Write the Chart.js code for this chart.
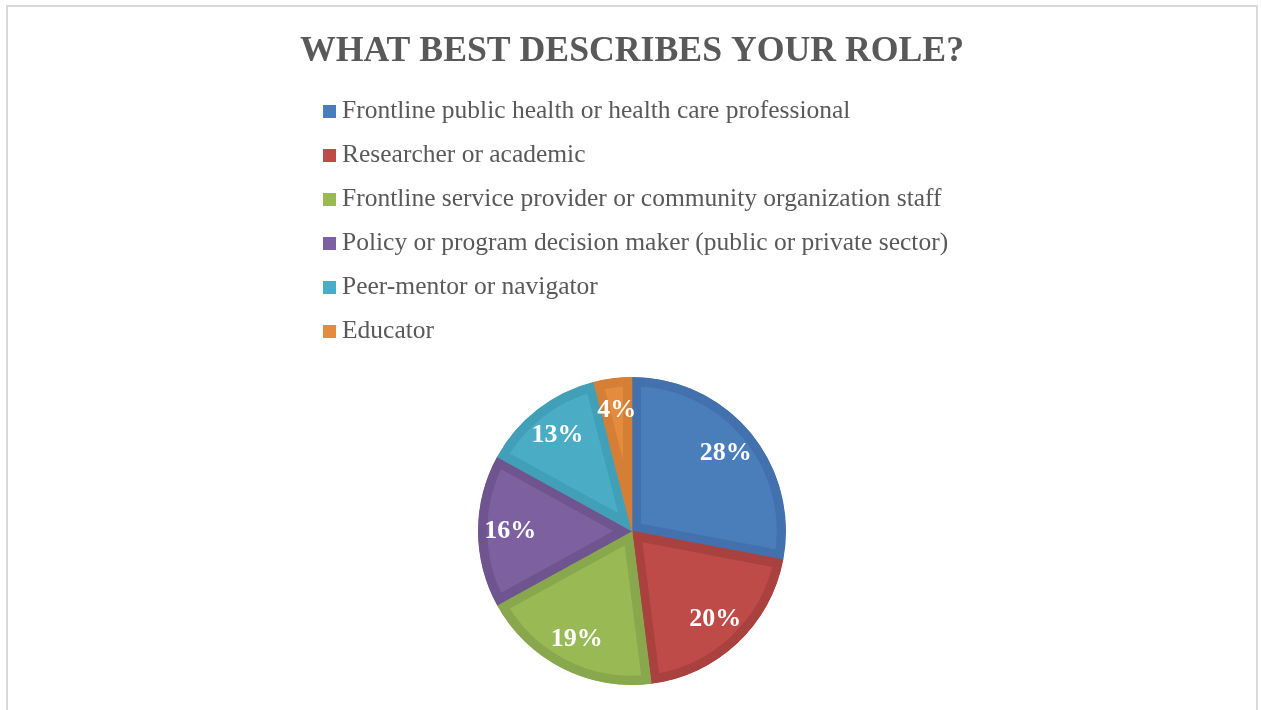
<!DOCTYPE html>
<html>
<head>
<meta charset="utf-8">
<title>What best describes your role?</title>
<script src="https://cdn.jsdelivr.net/npm/chart.js@4.4.1/dist/chart.umd.min.js"></script>
<style>
  html, body { margin: 0; padding: 0; background: #fff; overflow: hidden; }
  #frame {
    position: absolute; left: 6px; top: 5px;
    width: 1248px; height: 760px;
    border: 2px solid #d9d9d9; background: #fff;
  }
  #wrap { position: absolute; left: 0; top: 0; width: 1261px; height: 710px; }
</style>
</head>
<body>
<div id="frame"></div>
<div id="wrap"><canvas id="rolesChart"></canvas></div>
<script>
// survey answers, share of respondents in percent
const categories = [
  'Frontline public health or health care professional',
  'Researcher or academic',
  'Frontline service provider or community organization staff',
  'Policy or program decision maker (public or private sector)',
  'Peer-mentor or navigator',
  'Educator'
];
const shares = [28, 20, 19, 16, 13, 4];

// slice fill and the darker bevel band drawn inside each slice
const fillColors = ['#4a7ebb', '#be4b48', '#98b954', '#7d60a0', '#4aacc5', '#e58b3e'];
const bandColors = ['#4371ad', '#a9413e', '#89a74c', '#6f5590', '#41a0b8', '#d47e36'];

const textGray = '#595959';

// percentage labels placed towards the rim of each slice
const sliceLabels = {
  id: 'sliceLabels',
  afterDatasetsDraw(chart) {
    const ctx = chart.ctx;
    const meta = chart.getDatasetMeta(0);
    ctx.save();
    ctx.font = 'bold 26px "Liberation Serif", serif';
    ctx.fillStyle = '#ffffff';
    ctx.textAlign = 'center';
    ctx.textBaseline = 'middle';
    meta.data.forEach((arc, i) => {
      const p = arc.getProps(['x', 'y', 'startAngle', 'endAngle', 'outerRadius'], true);
      const mid = (p.startAngle + p.endAngle) / 2;
      const r = p.outerRadius * 0.79;
      ctx.fillText(shares[i] + '%', p.x + Math.cos(mid) * r, p.y + Math.sin(mid) * r);
    });
    ctx.restore();
  }
};

// one legend entry per row, left aligned above the pie
const rowLegend = {
  id: 'rowLegend',
  afterDraw(chart) {
    const ctx = chart.ctx;
    const colors = chart.data.datasets[0].backgroundColor;
    ctx.save();
    ctx.font = '25.5px "Liberation Serif", serif';
    ctx.textBaseline = 'alphabetic';
    ctx.textAlign = 'left';
    chart.data.labels.forEach((label, i) => {
      const top = 105 + i * 44;
      ctx.fillStyle = colors[i];
      ctx.fillRect(323, top, 13, 13);
      ctx.fillStyle = textGray;
      ctx.fillText(label, 342, top + 12.7);
    });
    ctx.restore();
  }
};

const chart = new Chart(document.getElementById('rolesChart'), {
  type: 'pie',
  data: {
    labels: categories,
    datasets: [{
      data: shares,
      backgroundColor: fillColors,
      borderColor: bandColors,
      borderWidth: 9,
      borderAlign: 'inner',
      hoverOffset: 0
    }]
  },
  options: {
    responsive: true,
    maintainAspectRatio: false,
    animation: false,
    layout: {
      padding: { top: 0, left: 300, right: 297, bottom: 25 }
    },
    plugins: {
      title: {
        display: true,
        text: 'WHAT BEST DESCRIBES YOUR ROLE?',
        color: textGray,
        font: { family: '"Liberation Serif", serif', size: 36, weight: 'bold' },
        padding: { top: 30, bottom: 303.8 }
      },
      legend: { display: false },
      tooltip: { enabled: false }
    }
  },
  plugins: [sliceLabels, rowLegend]
});
</script>
</body>
</html>
